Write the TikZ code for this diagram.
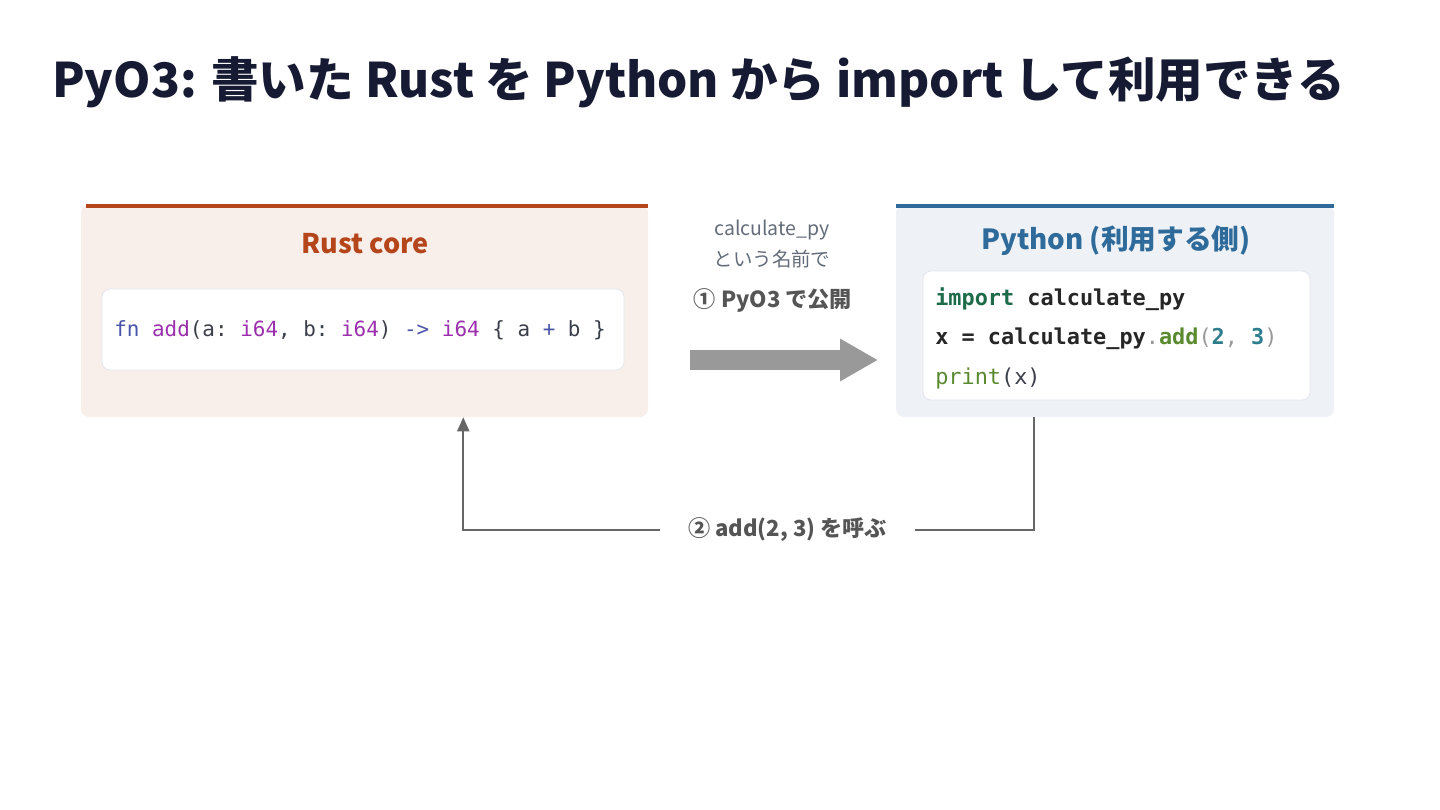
\documentclass[tikz,border=0pt]{standalone}
\usepackage{fontspec}
\setmainfont{Noto Sans CJK JP}
\setmonofont{DejaVu Sans Mono}
\usetikzlibrary{arrows.meta,calc}

\definecolor{titleink}{RGB}{22,27,51}
\definecolor{rustink}{RGB}{181,69,27}
\definecolor{rustfill}{RGB}{248,239,235}
\definecolor{pyink}{RGB}{47,107,154}
\definecolor{pyfill}{RGB}{238,242,247}
\definecolor{codeframe}{RGB}{226,230,238}
\definecolor{codetext}{RGB}{58,63,74}
\definecolor{kwblue}{RGB}{74,85,168}
\definecolor{kwpurple}{RGB}{155,47,174}
\definecolor{kwgreen}{RGB}{30,107,74}
\definecolor{fngreen}{RGB}{90,138,48}
\definecolor{numteal}{RGB}{46,125,140}
\definecolor{notegray}{RGB}{100,108,122}
\definecolor{stepgray}{RGB}{85,85,85}
\definecolor{bigarrow}{RGB}{153,153,153}
\definecolor{callgray}{RGB}{102,102,102}

\tikzset{
  panel/.style={rounded corners=6pt, draw=none, inner sep=0pt},
  codebox/.style={rounded corners=6pt, fill=white, draw=codeframe, line width=0.6pt, inner sep=0pt},
  codeline/.style={anchor=mid west, inner sep=0pt, font=\ttfamily\fontsize{15.7}{18}\selectfont},
  pyline/.style={anchor=mid west, inner sep=0pt, font=\ttfamily\fontsize{16.4}{18}\selectfont},
  steplabel/.style={font=\bfseries\fontsize{16.6}{19}\selectfont, text=stepgray},
  callline/.style={draw=callgray, line width=1.5pt},
}

\begin{document}
\begin{tikzpicture}[x=0.75pt,y=0.75pt,yscale=-1,xscale=1]
\useasboundingbox (0,0) rectangle (1440,810);
\fill[white] (0,0) rectangle (1440,810);

% Title
\node (title) [anchor=base west, inner sep=0pt, text=titleink, font=\bfseries\fontsize{35.7}{40}\selectfont] at (52,97) {PyO3: 書いた Rust を Python から import して利用できる};

%Shape: Rust panel
\node (rust) [panel, fill=rustfill, minimum width=425.25pt, minimum height=159pt] at (364.5,311) {};
\draw [rustink, line width=3pt] (rust.north west) ++(5,1.5) -- ($(rust.north east)+(0,1.5)$);
% Text Node
\node (rusttitle) [text=rustink, font=\bfseries\fontsize{20.3}{24}\selectfont] at (365,244) {Rust core};
%Shape: Rust code box
\node (rustcode) [codebox, minimum width=391.5pt, minimum height=60.75pt] at (363,329.5) {};
\node (rustfn) [codeline, text=codetext] at (114,333) {\textcolor{kwblue}{fn} \textcolor{kwpurple}{add}(a: \textcolor{kwpurple}{i64}, b: \textcolor{kwpurple}{i64}) \textcolor{kwblue}{->} \textcolor{kwpurple}{i64} \{ a \textcolor{kwblue}{+} b \}};

%Shape: Python panel
\node (py) [panel, fill=pyfill, minimum width=328.5pt, minimum height=159pt] at (1115,311) {};
\draw [pyink, line width=3pt] ($(py.north west)+(0,1.5)$) -- ($(py.north east)+(0,1.5)$);
% Text Node
\node (pytitle) [text=pyink, font=\bfseries\fontsize{20.8}{24}\selectfont] at (1116,241) {Python (利用する側)};
%Shape: Python code box
\node (pycode) [codebox, minimum width=290.25pt, minimum height=96.75pt] at (1116.5,335.5) {};
\node (pyimport) [pyline, text=codetext] at (935,302) {\textbf{\textcolor{kwgreen}{import} \textcolor{black!85}{calculate\_py}}};
\node (pycall) [pyline, text=black!85] at (935,341) {\textbf{x = calculate\_py}\textcolor{bigarrow}{.}\textbf{\textcolor{fngreen}{add}}\textcolor{bigarrow}{(}\textbf{\textcolor{numteal}{2}}\textcolor{bigarrow}{,} \textbf{\textcolor{numteal}{3}}\textcolor{bigarrow}{)}};
\node (pyprint) [pyline, text=codetext] at (935,381) {\textcolor{fngreen}{print}(x)};

% Export arrow with its notes
\node (expname) [text=notegray, font=\fontsize{14.6}{17}\selectfont] at (772,230) {calculate\_py};
\node (expname2) [text=notegray, font=\fontsize{14.6}{17}\selectfont] at (772,259) {という名前で};
\node (expstep) [steplabel] at (773,300) {① PyO3 で公開};
\coordinate (expfrom) at (690,360);
\coordinate (expto) at (878,360);
\draw [bigarrow, line width=15pt, -{Triangle[length=28.5pt,width=30pt]}] (expfrom) -- (expto);

% Call back from Python to Rust
\node (callstep) [steplabel, fill=white, inner xsep=21pt] at (787.5,530) {② add(2, 3) を呼ぶ};
\coordinate (callfrom) at ($(py.south west)+(138,0)$);
\coordinate (callto) at ($(rust.south east)+(-185,0)$);
\draw [callline] (callfrom) |- (callstep.east);
\draw [callline, -{Triangle[length=10.5pt,width=9pt]}] (callstep.west) -| (callto);

\end{tikzpicture}
\end{document}
